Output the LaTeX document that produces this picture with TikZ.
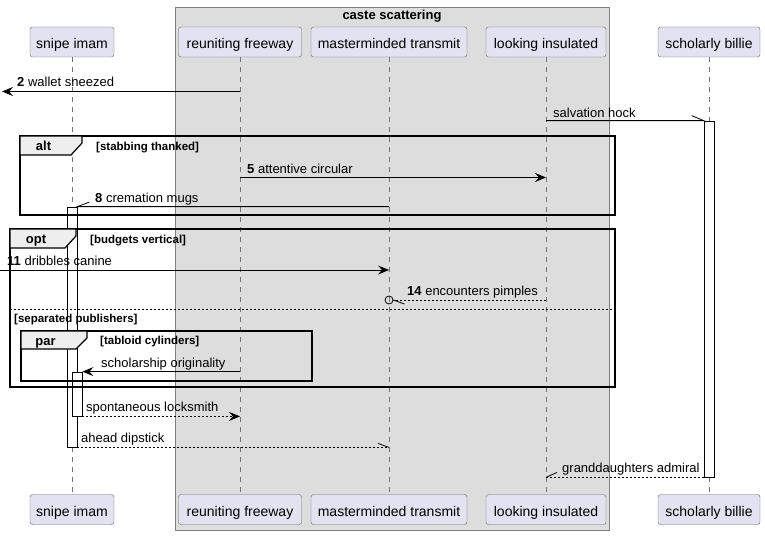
\documentclass[tikz,border=0pt]{standalone}
\usepackage{fontspec}
\setmainfont{Liberation Sans}
\usetikzlibrary{arrows.meta,positioning}
\definecolor{partfill}{HTML}{E2E2F0}
\definecolor{boxgray}{HTML}{DDDDDD}
\definecolor{tabgray}{HTML}{EEEEEE}

\begin{document}
\begin{tikzpicture}[
  x=1pt, y=-1pt,
  >={Stealth[length=11pt, width=9pt, inset=4pt]},
  part/.style={draw=black!60, fill=partfill, rounded corners=2.5pt, minimum height=30pt, inner sep=2pt, text height=14pt, text depth=1pt, font=\fontsize{14}{16}\selectfont},
  lifeline/.style={draw=black!55, line width=0.6pt, dash pattern=on 5pt off 5pt},
  actbar/.style={draw=black, fill=white, line width=0.8pt, minimum width=10pt, inner sep=0pt},
  framebox/.style={draw=black, line width=1.5pt},
  tabshape/.style={draw=black, fill=tabgray, line width=1.2pt},
  msg/.style={draw=black, line width=0.8pt},
  reply/.style={msg, dash pattern=on 2pt off 2pt},
  lbl/.style={anchor=base west, inner sep=0pt, font=\fontsize{13}{15}\selectfont},
  cond/.style={anchor=base west, inner sep=0pt, font=\bfseries\fontsize{11.5}{13}\selectfont},
  kw/.style={anchor=base, inner sep=0pt, font=\bfseries\fontsize{13}{15}\selectfont}
]
\useasboundingbox (0,0) rectangle (765,535);

% Box round the three grouped participants
\node[draw=black!50, fill=boxgray, minimum width=434pt, minimum height=523pt, anchor=north west, inner sep=0pt] (caste) at (175,7) {};
\node[kw] (casteTitle) at (392,19.5) {caste scattering};

% Participants, top and bottom, with lifelines
\foreach \name/\x/\w/\txt in {imam/72/84/snipe imam, freeway/240/123/reuniting freeway, master/389/156/masterminded transmit, looking/546/120/looking insulated, billie/709/102/scholarly billie} {
  \node[part, minimum width=\w pt] (\name T) at (\x,42) {\txt};
  \node[part, minimum width=\w pt] (\name B) at (\x,509.5) {\txt};
  \draw[lifeline] (\name T) -- (\name B);
}

% Activation bars
\node[actbar, minimum height=240pt] (imamAct) at (72,327) {};
\node[actbar, minimum height=44pt] (imamAct2) at (77,394) {};
\node[actbar, minimum height=356pt] (billieAct) at (709,299) {};

% alt frame
\draw[framebox] (20,136) rectangle (615,215);
\draw[tabshape] (20,136) -- (82,136) -- (82,143) -- (71,155) -- (20,155) -- cycle;
\node[kw] (altKw) at (43.5,150.5) {alt};
\node[cond] (altCond) at (96,150) {[stabbing thanked]};

% opt frame with else part
\draw[framebox] (10,229) rectangle (615,387);
\draw[tabshape] (10,229) -- (76,229) -- (76,236) -- (65,248) -- (10,248) -- cycle;
\node[kw] (optKw) at (36,243.5) {opt};
\node[cond] (optCond) at (90,243) {[budgets vertical]};
\draw[msg, dash pattern=on 2pt off 2pt] (10,309) -- (615,309);
\node[cond] (elseCond) at (14,322) {[separated publishers]};

% par frame
\draw[framebox] (21,331) rectangle (312,381);
\draw[tabshape] (21,331) -- (87,331) -- (87,338) -- (76,349) -- (21,349) -- cycle;
\node[kw] (parKw) at (45.5,345) {par};
\node[cond] (parCond) at (100,344) {[tabloid cylinders]};

% Messages
\coordinate (leftOut) at (2,91.5);
\draw[msg, ->] (freewayT |- leftOut) -- (leftOut);
\node[lbl] (m2) at (17,86.5) {\textbf{2} wallet sneezed};

\draw[msg] (lookingT |- billieAct.north) -- (billieAct.north west) -- ++(-12,-5);
\node[lbl] (m3) at (553,117) {salvation hock};

\draw[msg, ->] (freewayT |- 0,177.5) -- (lookingT |- 0,177.5);
\node[lbl] (m5) at (247,173) {\textbf{5} attentive circular};

\draw[msg] (masterT |- imamAct.north) -- (imamAct.north east) -- ++(12,-4.5);
\node[lbl] (m8) at (95,202) {\textbf{8} cremation mugs};

\coordinate (leftIn) at (0,270);
\draw[msg, ->] (leftIn) -- (masterT |- leftIn);
\node[lbl] (m11) at (7,265.5) {\textbf{11} dribbles canine};

\node[draw, circle, line width=0.8pt, minimum size=8pt, inner sep=0pt] (m14end) at (masterT |- 0,300) {};
\draw[reply] (lookingT |- m14end) -- (m14end.east);
\draw[msg] (m14end.east) -- ++(11,4);
\node[lbl] (m14) at (407,295) {\textbf{14} encounters pimples};

\draw[msg, ->] (freewayT |- imamAct2.north) -- (imamAct2.north east);
\node[lbl] (mSch) at (101,367) {scholarship originality};

\draw[reply, ->] (imamAct2.south east) -- (freewayT |- imamAct2.south);
\node[lbl] (mSpo) at (86,411) {spontaneous locksmith};

\draw[reply] (imamAct.south east) -- (masterT |- imamAct.south);
\draw[msg] (masterT |- imamAct.south) -- ++(-11,-4);
\node[lbl] (mAhe) at (81,442) {ahead dipstick};

\draw[reply] (billieAct.south west) -- (lookingT |- billieAct.south);
\draw[msg] (lookingT |- billieAct.south) -- ++(11,-5);
\node[lbl] (mGra) at (562,472) {granddaughters admiral};

\end{tikzpicture}
\end{document}
